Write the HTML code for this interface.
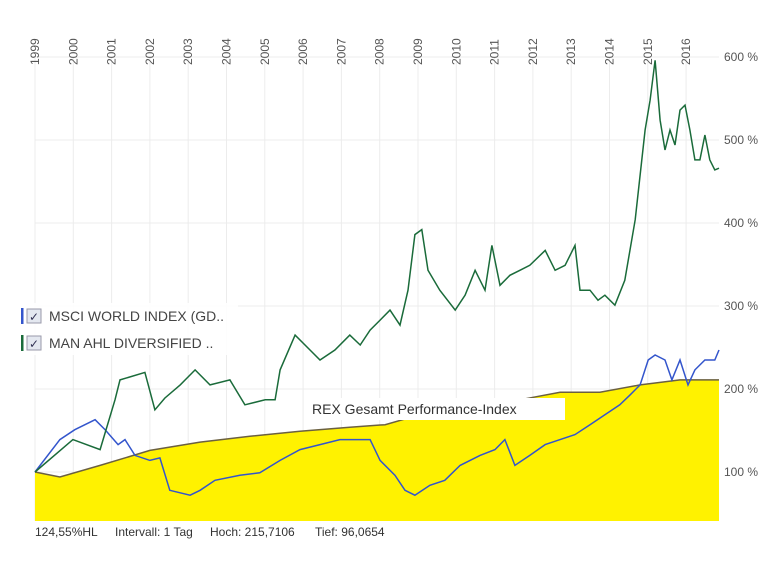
<!DOCTYPE html>
<html><head><meta charset="utf-8"><style>
body{margin:0;background:#fff;font-family:"Liberation Sans",sans-serif}
svg text{font-family:"Liberation Sans",sans-serif}
</style></head><body>
<svg id="chart" width="770" height="578">
<g id="grid"></g><g id="series"></g><g id="labels"></g>
<g>
<rect x="18" y="303" width="220" height="52" fill="#fff" opacity="0.9"/>
<g>
<rect x="21" y="308" width="2.5" height="16" fill="#3355cc"/>
<rect x="27" y="309" width="14" height="14" fill="#e4e8f0" stroke="#99a"/>
<text x="34" y="321" font-size="12" text-anchor="middle" fill="#335">✓</text>
<text x="49" y="321" font-size="14" fill="#444">MSCI WORLD INDEX (GD..</text></g>
<g>
<rect x="21" y="335" width="2.5" height="16" fill="#1a6b3a"/>
<rect x="27" y="336" width="14" height="14" fill="#e4e8f0" stroke="#99a"/>
<text x="34" y="348" font-size="12" text-anchor="middle" fill="#335">✓</text>
<text x="49" y="348" font-size="14" fill="#444">MAN AHL DIVERSIFIED ..</text></g>
</g>
<g>
<rect x="305" y="398" width="260" height="22" fill="#fff"/>
<text x="312" y="414" font-size="14" fill="#333">REX Gesamt Performance-Index</text></g>
<g font-size="12" fill="#333">
<text x="35" y="536">124,55%HL</text>
<text x="115" y="536">Intervall: 1 Tag</text>
<text x="210" y="536">Hoch: 215,7106</text>
<text x="315" y="536">Tief: 96,0654</text></g>
</svg>
<script>
const yearTicks=[1999,2000,2001,2002,2003,2004,2005,2006,2007,2008,2009,2010,2011,2012,2013,2014,2015,2016];
const pctTicks=[100,200,300,400,500,600];
const greenT=[0,0.99,1.70,2.09,2.22,2.87,3.13,3.39,3.79,4.18,4.57,5.09,5.48,6.01,6.27,6.40,6.79,7.18,7.44,7.83,8.22,8.49,8.75,9.01,9.27,9.53,9.74,9.92,10.10,10.26,10.57,10.97,11.23,11.49,11.75,11.93,12.14,12.40,12.66,12.92,13.32,13.58,13.84,14.10,14.23,14.49,14.70,14.88,15.14,15.40,15.67,15.93,16.06,16.19,16.32,16.45,16.58,16.71,16.84,16.97,17.10,17.23,17.36,17.49,17.62,17.75,17.86];
const greenV=[100,139,127,187,211,220,175,189,205,223,205,211,181,187,187,223,265,247,235,247,265,253,271,283,295,277,319,386,392,343,319,295,313,343,319,373,325,337,343,349,367,343,349,373,319,319,307,313,301,331,404,512,548,596,524,488,512,494,536,542,512,476,476,506,476,464,466];
const blueT=[0,0.65,1.04,1.57,1.83,2.17,2.35,2.61,3.00,3.26,3.52,4.05,4.31,4.70,5.35,5.87,6.40,6.92,7.44,7.96,8.49,8.75,9.01,9.40,9.66,9.92,10.31,10.70,11.10,11.62,12.01,12.27,12.53,12.92,13.32,13.71,14.10,14.49,14.88,15.27,15.54,15.80,16.01,16.19,16.45,16.63,16.84,17.05,17.23,17.49,17.75,17.86];
const blueV=[100,139,151,163,151,133,139,120,114,117,78,72,78,90,96,99,114,127,133,139,139,139,114,96,78,72,84,90,108,120,127,139,108,120,133,139,145,157,169,181,193,205,235,241,235,211,235,205,223,235,235,247];
const rexT=[0,0.65,1.70,3.00,4.31,5.61,6.92,8.22,9.14,10.05,11.36,12.66,13.71,14.75,15.80,16.84,17.86];
const rexV=[100,94,108,126,136,143,149,154,157,169,181,187,196,196,205,211,211];

const X0=35,X1=719,YB=521,YT=57;
const xs=t=>X0+t*38.3;
const ys=v=>555-v*0.83;
const NS='http://www.w3.org/2000/svg';
function mk(tag,at,parent){const e=document.createElementNS(NS,tag);for(const k in at)e.setAttribute(k,at[k]);parent.appendChild(e);return e;}
const grid=document.getElementById('grid'),ser=document.getElementById('series'),lab=document.getElementById('labels');
yearTicks.forEach(y=>{const x=xs(y-1999);
 const l=mk('line',{x1:x,x2:x,y1:YT,y2:YB,stroke:'#ececec'},grid);
 
 
 const t=mk('text',{x:0,y:0,'font-size':12,fill:'#555',transform:`translate(${x+4},65) rotate(-90)`},lab);
 t.textContent=y;
 
 });
pctTicks.forEach(p=>{const y=ys(p);
 const l=mk('line',{x1:X0,x2:X1,y1:y,y2:y,stroke:'#ececec'},grid);
 
 
 const t=mk('text',{x:724,y:y+4,'font-size':12,fill:'#555'},lab);
 t.textContent=p+' %';
 
 });
const pts=(T,V)=>T.map((t,i)=>xs(t).toFixed(1)+','+ys(V[i]).toFixed(1));
const rp=pts(rexT,rexV);
const area=mk('polygon',{points:`${X0},${YB} `+rp.join(' ')+` ${X1},${YB}`,fill:'#fff200'},ser);


const rl=mk('polyline',{points:rp.join(' '),fill:'none',stroke:'#6b6040','stroke-width':1.5},ser);


const bl=mk('polyline',{points:pts(blueT,blueV).join(' '),fill:'none',stroke:'#3355cc','stroke-width':1.5},ser);


const gl=mk('polyline',{points:pts(greenT,greenV).join(' '),fill:'none',stroke:'#1a6b3a','stroke-width':1.5},ser);


</script>
</body></html>
